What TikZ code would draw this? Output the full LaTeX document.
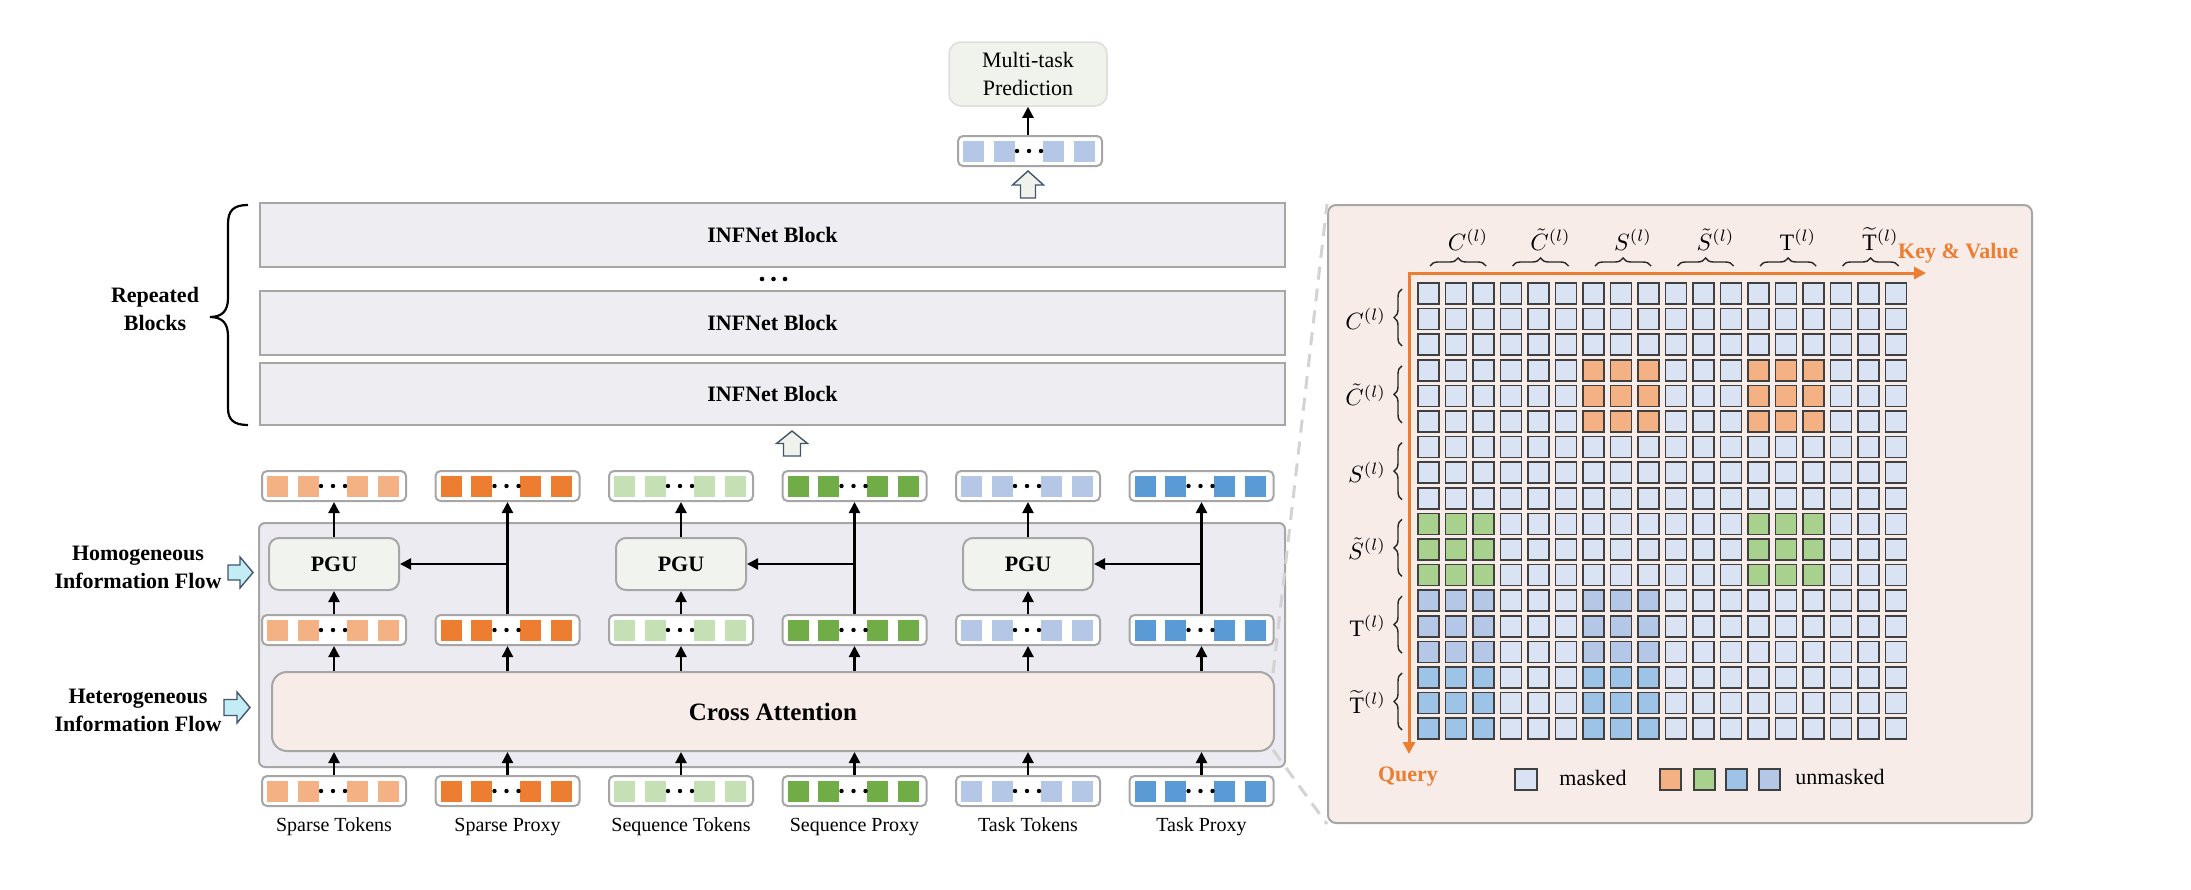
\documentclass[tikz,border=0pt]{standalone}
\usepackage{fontspec}
\setmainfont{Liberation Serif}
\usetikzlibrary{arrows.meta,calc,decorations.pathreplacing}
\definecolor{bordergray}{HTML}{A6A6A6}
\definecolor{blockfill}{HTML}{EDEDF2}
\definecolor{graybox}{HTML}{ECEBF1}
\definecolor{pgufill}{HTML}{F1F3EE}
\definecolor{cafill}{HTML}{F7ECE8}
\definecolor{mtfill}{HTML}{F0F3EC}
\definecolor{maskedc}{HTML}{DAE3F3}
\definecolor{ora}{HTML}{ED7D31}
\definecolor{lora}{HTML}{F4B183}
\definecolor{lgreen}{HTML}{C5E0B4}
\definecolor{dgreen}{HTML}{70AD47}
\definecolor{lav}{HTML}{B4C7E7}
\definecolor{dblue}{HTML}{5B9BD5}
\definecolor{ugreen}{HTML}{A9D18E}
\definecolor{ublue}{HTML}{9DC3E6}
\definecolor{cyanarrow}{HTML}{C2EDF5}
\definecolor{arrowedge}{HTML}{44546A}
\definecolor{cellborder}{HTML}{404040}
\definecolor{dashgray}{HTML}{D3D3D3}
\definecolor{mtborder}{HTML}{DDDDDD}
\tikzset{
  tokbar/.style={draw=bordergray, line width=2pt, rounded corners=5pt, fill=white, minimum width=144pt, minimum height=30pt, inner sep=0pt},
  conn/.style={line width=2.2pt, -{Triangle[length=11pt,width=11pt]}},
  lbl/.style={font=\fontsize{20}{24}\selectfont, inner sep=0pt},
  boldlbl/.style={font=\fontsize{22}{28}\selectfont\bfseries, align=center, inner sep=0pt},
  infblock/.style={draw=bordergray, line width=2pt, fill=blockfill, minimum width=1025pt, minimum height=64pt, inner sep=0pt, font=\fontsize{22}{26}\selectfont\bfseries},
  pgubox/.style={draw=bordergray, line width=2pt, fill=pgufill, rounded corners=10pt, minimum width=130pt, minimum height=52pt, inner sep=0pt, font=\fontsize{22}{26}\selectfont\bfseries},
  cellbox/.style={draw=cellborder, line width=1.5pt},
  hollowup/.style={draw=arrowedge, fill=mtfill, line width=1.4pt, line join=miter},
  cyanright/.style={draw=arrowedge, fill=cyanarrow, line width=1.4pt, line join=miter},
  bracestyle/.style={draw=black!85, line width=1.4pt, decorate, decoration={brace, amplitude=8pt}},
  mathlbl/.style={inner sep=0pt},
}
\begin{document}
\begin{tikzpicture}[x=1pt,y=-1pt]
\useasboundingbox (0,0) rectangle (2191,889);

% ---------------- left: main architecture ----------------
\node[draw=mtborder, line width=1.5pt, fill=mtfill, rounded corners=12pt, minimum width=158pt, minimum height=64pt, align=center, inner sep=0pt, font=\fontsize{22}{28}\selectfont] (mt) at (1028,74) {Multi-task\\Prediction};

\node[tokbar] (out) at (1030,151) {};
\foreach \dx in {-56.5,-26,23,54} \fill[lav] ($(out.center)+(\dx-10.5,-10.5)$) rectangle ++(21,21);
\foreach \dx in {-13,-1,11} \fill ($(out.center)+(\dx,0)$) circle (2.2pt);
\draw[conn] (out.north -| mt.south) -- (mt.south);

% hollow arrow top
\begin{scope}[shift={(1028,198)}]
\draw[hollowup] (-7.5,0) -- (-7.5,-13) -- (-15.5,-13) -- (0,-27) -- (15.5,-13) -- (7.5,-13) -- (7.5,0) -- cycle;
\end{scope}

% INFNet blocks
\node[infblock] (b1) at (772.5,235) {INFNet Block};
\node[infblock] (b2) at (772.5,323) {INFNet Block};
\node[infblock, minimum height=62pt] (b3) at (772.5,394) {INFNet Block};
\foreach \x in {762,773.5,785} \fill (\x,279) circle (2.3pt);

% Repeated blocks brace
\draw[line width=2.2pt] (248,205) .. controls (234,205) and (228,210) .. (228,224) -- (228,298) .. controls (228,311) and (222,317) .. (210,317) .. controls (222,317) and (228,323) .. (228,336) -- (228,408) .. controls (228,420) and (234,425) .. (248,425);
\node[boldlbl] (rep) at (155,309) {Repeated\\Blocks};

% hollow arrow middle
\begin{scope}[shift={(792,456)}]
\draw[hollowup] (-8.5,0) -- (-8.5,-12.5) -- (-15.5,-12.5) -- (0,-25) -- (15.5,-12.5) -- (8.5,-12.5) -- (8.5,0) -- cycle;
\end{scope}

% big gray box
\node[draw=bordergray, line width=2pt, fill=graybox, rounded corners=6pt, minimum width=1026pt, minimum height=244pt, inner sep=0pt] (main) at (772,645) {};

% right panel
\node[draw=bordergray, line width=2pt, fill=cafill, rounded corners=8pt, minimum width=704pt, minimum height=618pt, inner sep=0pt] (panel) at (1680,514) {};

% cross attention
\node[draw=bordergray, line width=2pt, fill=cafill, rounded corners=15pt, minimum width=1002pt, minimum height=79pt, inner sep=0pt, font=\fontsize{25}{30}\selectfont\bfseries] (ca) at (773,711.5) {Cross Attention};

% dashed zoom lines
\draw[dashgray, line width=3pt, dash pattern=on 13pt off 9pt] ($(ca.north east)+(-2,2)$) -- (panel.north west);
\draw[dashgray, line width=3pt, dash pattern=on 13pt off 9pt] ($(ca.south east)+(-2,-2)$) -- (panel.south west);

% token bars
\foreach \i/\c/\t in {0/lora/Sparse Tokens,1/ora/Sparse Proxy,2/lgreen/Sequence Tokens,3/dgreen/Sequence Proxy,4/lav/Task Tokens,5/dblue/Task Proxy} {
  \pgfmathsetmacro\cx{334+173.5*\i}
  \node[tokbar] (top\i) at (\cx,486) {};
  \node[tokbar] (mid\i) at (\cx,630) {};
  \node[tokbar] (bot\i) at (\cx,791) {};
  \foreach \n in {top,mid,bot} {
    \foreach \dx in {-56.5,-26,23,54} \fill[\c] ($(\n\i.center)+(\dx-10.5,-10.5)$) rectangle ++(21,21);
    \foreach \dx in {-13,-1,11} \fill ($(\n\i.center)+(\dx,0)$) circle (2.2pt);
  }
  \node[lbl, anchor=base] (lab\i) at (\cx,831) {\t};
  \draw[conn] (bot\i.north) -- (bot\i.north |- ca.south);
  \draw[conn] (ca.north -| mid\i.south) -- (mid\i.south);
}

% PGUs
\foreach \k/\a/\b in {0/0/1,1/2/3,2/4/5} {
  \node[pgubox] (pgu\k) at ($(mid\a.north)+(0,-50)$) {PGU};
  \draw[conn] (mid\a.north) -- (pgu\k.south);
  \draw[conn] (pgu\k.north) -- (top\a.south);
  \draw[conn] (mid\b.north) -- (top\b.south);
  \draw[conn] (mid\b.north |- pgu\k.east) -- (pgu\k.east);
}

% info flow arrows
\begin{scope}[shift={(228,572.5)}]
\draw[cyanright] (0,-7.5) -- (12,-7.5) -- (12,-15.5) -- (25,0) -- (12,15.5) -- (12,7.5) -- (0,7.5) -- cycle;
\end{scope}
\begin{scope}[shift={(224,707.5)}]
\draw[cyanright] (0,-8) -- (13,-8) -- (13,-15.5) -- (26,0) -- (13,15.5) -- (13,8) -- (0,8) -- cycle;
\end{scope}
\node[boldlbl] (homo) at (138,567) {Homogeneous\\Information Flow};
\node[boldlbl] (hetero) at (138,710.5) {Heterogeneous\\Information Flow};

% ---------------- right: attention mask ----------------
\foreach \r in {0,...,17} \foreach \c in {0,...,17}
  \draw[cellbox, fill=maskedc] ({1418+27.5*\c},{283+25.6*\r}) rectangle ++(21,21);
\foreach \rg/\cg/\col in {1/2/lora,1/4/lora,3/0/ugreen,3/4/ugreen,4/0/lav,4/2/lav,5/0/ublue,5/2/ublue}
  \foreach \a in {0,1,2} \foreach \b in {0,1,2}
    \draw[cellbox, fill=\col] ({1418+27.5*(3*\cg+\b)},{283+25.6*(3*\rg+\a)}) rectangle ++(21,21);

\coordinate (orig) at (1409,273);
\coordinate (kv) at (1926,273);
\coordinate (qy) at (1409,754);
\draw[ora, line width=3pt, {Triangle[length=12pt,width=12pt]}-{Triangle[length=12pt,width=12pt]}] (qy) -- (orig) -- (kv);
\node[anchor=west, text=ora, font=\fontsize{22}{26}\selectfont\bfseries, inner sep=0pt] (kvl) at (1898,253) {Key \& Value};
\node[text=ora, font=\fontsize{22}{26}\selectfont\bfseries, inner sep=0pt] (ql) at (1408,777) {Query};

% column labels and braces
\foreach \g/\t in {0/{C^{(l)}},1/{\tilde{C}^{(l)}},2/{S^{(l)}},3/{\tilde{S}^{(l)}},4/{\mathrm{T}^{(l)}},5/{\widetilde{\mathrm{T}}^{(l)}}} {
  \draw[bracestyle] ({1430+82.5*\g},266) -- ({1486+82.5*\g},266);
  \node[mathlbl, anchor=base] (cl\g) at ({1468+82.5*\g},250) {\scalebox{2.35}{$\t$}};
  \draw[bracestyle] (1402,{346+76.8*\g}) -- (1402,{289+76.8*\g});
  \node[mathlbl, anchor=base east] (rl\g) at (1386,{329+76.8*\g}) {\scalebox{2.35}{$\t$}};
}

% legend
\draw[cellbox, fill=maskedc] (1515,769) rectangle ++(22,21);
\node[lbl, font=\fontsize{22}{26}\selectfont, anchor=base] (lm) at (1593,785) {masked};
\foreach \x/\col in {1660/lora,1694/ugreen,1726/ublue,1759/lav}
  \draw[cellbox, fill=\col] (\x,769) rectangle ++(21,21);
\node[lbl, font=\fontsize{22}{26}\selectfont, anchor=base] (lu) at (1840,784) {unmasked};
\end{tikzpicture}
\end{document}
